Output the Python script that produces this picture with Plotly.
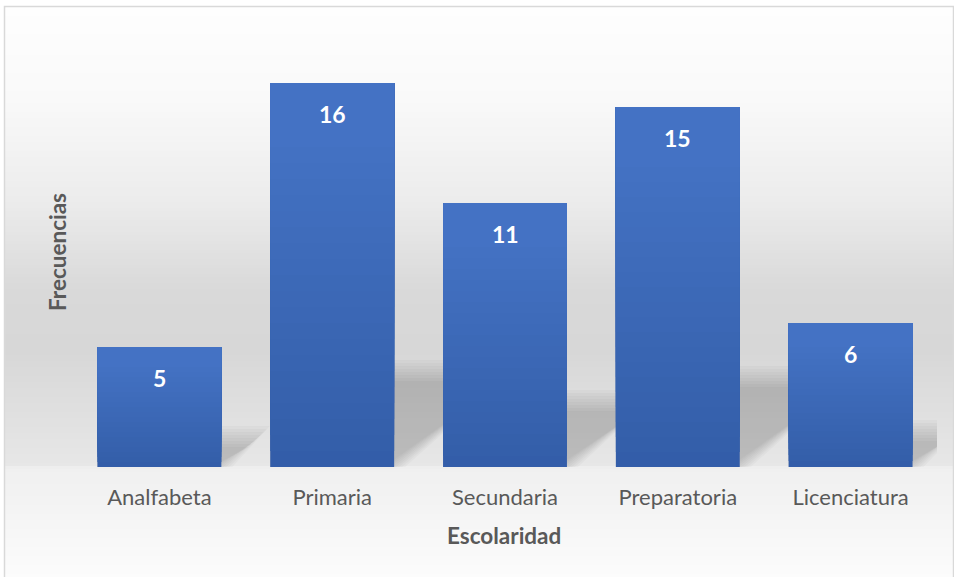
import plotly.graph_objects as go

# ---- data -----------------------------------------------------------------
categories = ["Analfabeta", "Primaria", "Secundaria", "Preparatoria", "Licenciatura"]
frecuencias = [5, 16, 11, 15, 6]
x_title = "Escolaridad"
y_title = "Frecuencias"

# ---- layout geometry ------------------------------------------------------
W, H = 954, 577
ML, MR, MT, MB = 73, 17, 35, 110
PW, PH = W - ML - MR, H - MT - MB
Y_MAX = 18
BARGAP = 0.283
HALF = (1 - BARGAP) / 2

FONT = "Lato"
TEXT_GREY = "#595959"


def px_x(p):
    return (p - ML) / PW


def px_y(p):
    return (H - MB - p) / PH


def mix(c0, c1, t):
    return "rgb(%d,%d,%d)" % tuple(round(a + (b - a) * t) for a, b in zip(c0, c1))


def interp(stops, y):
    for (y0, g0), (y1, g1) in zip(stops, stops[1:]):
        if y0 <= y <= y1:
            return g0 + (g1 - g0) * (y - y0) / (y1 - y0)
    return stops[-1][1]


BAR_TOP = (68, 114, 196)
BAR_BOTTOM = (51, 93, 168)

fig = go.Figure()

# solid base of every bar
fig.add_bar(
    x=categories, y=frecuencias,
    marker=dict(color=mix(BAR_BOTTOM, BAR_TOP, 0.02), line=dict(width=0)),
    name="Frecuencias", hoverinfo="x+y",
)

# vertical gradient: lighter slices stacked toward the top of each bar
N = 24
for k in range(1, N):
    f = k / N
    fig.add_bar(
        x=categories,
        y=[v * (1 - f) for v in frecuencias],
        base=[v * f for v in frecuencias],
        marker=dict(color=mix(BAR_BOTTOM, BAR_TOP, min(1, (f + 0.5 / N) * 1.15)),
                    line=dict(width=0)),
        hoverinfo="skip", showlegend=False,
    )

shapes = []

# chart-area background: soft vertical grey gradient
bg_stops = [(0, 255), (7, 254), (100, 249), (200, 236), (290, 217), (350, 215),
            (400, 222), (466, 231), (468, 240), (500, 243), (577, 252)]
step = 3
for y in range(7, H, step):
    g = round(interp(bg_stops, y + step / 2))
    shapes.append(dict(
        type="rect", xref="paper", yref="paper", layer="below",
        x0=px_x(5), x1=px_x(953), y0=px_y(y), y1=px_y(min(H, y + step)),
        fillcolor="rgb(%d,%d,%d)" % (g, g, g), line=dict(width=0),
    ))

# soft perspective shadows cast back and to the right of each bar
ux = len(categories) / PW      # category units per pixel
uy = Y_MAX / PH                # value units per pixel
SHADOW_RATIO = 0.25            # shadow height relative to bar height
SLANT = 1.25                   # horizontal shift per unit of shadow height (px/px)
layers = [(e, 0.024) for e in (11, 8, 5, 2, -1, -4, -7, -10)]
for i, v in enumerate(frecuencias):
    xl, xr = i - HALF, i + HALF
    h = SHADOW_RATIO * v
    s = SLANT * (h / uy) * ux
    for e, op in layers:
        ex, ey = e * ux, e * uy
        pts = [
            (xl, 0),
            (xr + ex, 0),
            (xr + s + ex, h + ey),
            (xl, h + ey),
        ]
        path = "M " + " L ".join("%f,%f" % p for p in pts) + " Z"
        shapes.append(dict(type="path", xref="x", yref="y", layer="below",
                           path=path, fillcolor="black", opacity=op,
                           line=dict(width=0)))

# outer frame
shapes.append(dict(type="rect", xref="paper", yref="paper", layer="below",
                   x0=px_x(4.5), x1=px_x(953.5), y0=px_y(6.5), y1=px_y(590),
                   fillcolor="rgba(0,0,0,0)", line=dict(color="#d9d9d9", width=1.5)))

annotations = []
for c, v in zip(categories, frecuencias):
    annotations.append(dict(
        x=c, y=v, xref="x", yref="y", text=str(v), showarrow=False,
        yshift=-31, yanchor="middle",
        font=dict(family=FONT, size=23, color="white", weight="bold"),
    ))

annotations.append(dict(
    x=px_x(504), y=px_y(535), xref="paper", yref="paper", text=x_title,
    showarrow=False, xanchor="center", yanchor="middle",
    font=dict(family=FONT, size=22.5, color=TEXT_GREY, weight="bold"),
))
annotations.append(dict(
    x=px_x(57), y=px_y(252), xref="paper", yref="paper", text=y_title,
    showarrow=False, xanchor="center", yanchor="middle", textangle=-90,
    font=dict(family=FONT, size=22.5, color=TEXT_GREY, weight="bold"),
))

fig.update_layout(
    width=W, height=H,
    margin=dict(l=ML, r=MR, t=MT, b=MB, autoexpand=False),
    paper_bgcolor="white", plot_bgcolor="rgba(0,0,0,0)",
    barmode="overlay", bargap=BARGAP, showlegend=False,
    shapes=shapes, annotations=annotations,
    xaxis=dict(type="category", range=[-0.5, len(categories) - 0.5],
               showgrid=False, zeroline=False, showline=False,
               ticks="", ticklabelstandoff=15, automargin=False,
               tickfont=dict(family=FONT, size=22, color=TEXT_GREY)),
    yaxis=dict(range=[0, Y_MAX], showgrid=False, zeroline=False, showline=False,
               showticklabels=False, ticks="", automargin=False),
)

fig.write_html("out.html")
